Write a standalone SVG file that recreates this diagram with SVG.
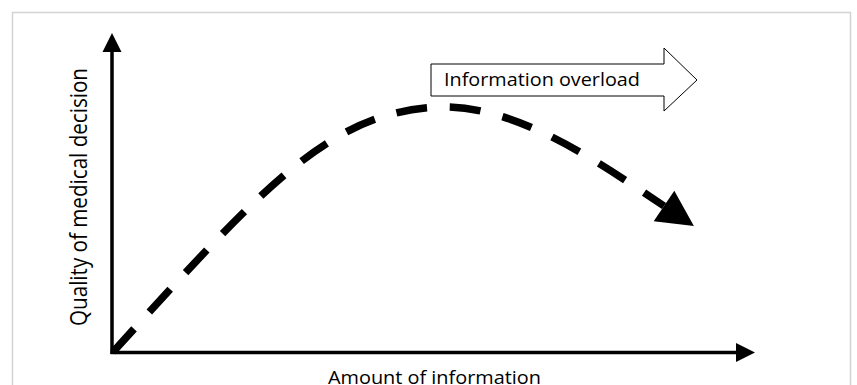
<svg xmlns="http://www.w3.org/2000/svg" width="857" height="385" viewBox="0 0 857 385">
<style>
.lbl{font-family:"Open Sans","Liberation Sans",sans-serif;fill:#000}
.axis{stroke:#000;stroke-width:3.5;fill:none}
.curve{stroke:#000;stroke-width:7.5;fill:none;stroke-dasharray:31 22.7}
</style>
<defs>
<marker id="axhead" markerUnits="userSpaceOnUse" markerWidth="20" markerHeight="20" refX="0" refY="9.5" orient="auto" overflow="visible">
<path d="M0,0 L19,9.5 L0,19 z" fill="#000"/>
</marker>
<marker id="bighead" markerUnits="userSpaceOnUse" markerWidth="40" markerHeight="40" refX="0" refY="20" orient="auto" overflow="visible">
<path d="M0,1.5 L36,20 L0,38.5 z" fill="#000"/>
</marker>
</defs>
<rect x="12.5" y="12.5" width="838" height="390" fill="#fff" stroke="#d3d3d3" stroke-width="1.5"/>
<g id="connectors">
<line class="axis" x1="112" y1="354" x2="112" y2="52" marker-end="url(#axhead)"/>
<line class="axis" x1="110.5" y1="352.5" x2="736" y2="352.5" marker-end="url(#axhead)"/>
<path class="curve" d="M113,352 C263,187 332,108 445,107 C520,107 600,163 664,206" marker-end="url(#bighead)"/>
</g>
<g id="overload">
<polygon points="431,64 664,64 664,48 697,80 664,111 664,96 431,96" fill="#fff" stroke="#000" stroke-width="1"/>
<text class="lbl" x="444" y="86" font-size="18" textLength="196" lengthAdjust="spacingAndGlyphs">Information overload</text>
</g>
<g id="xlabel">
<text class="lbl" x="434.5" y="384" font-size="18" text-anchor="middle" textLength="213" lengthAdjust="spacingAndGlyphs">Amount of information</text>
</g>
<g id="ylabel">
<text class="lbl" transform="translate(87,197) rotate(-90)" x="0" y="0" font-size="24" text-anchor="middle" textLength="258" lengthAdjust="spacingAndGlyphs">Quality of medical decision</text>
</g>
</svg>
